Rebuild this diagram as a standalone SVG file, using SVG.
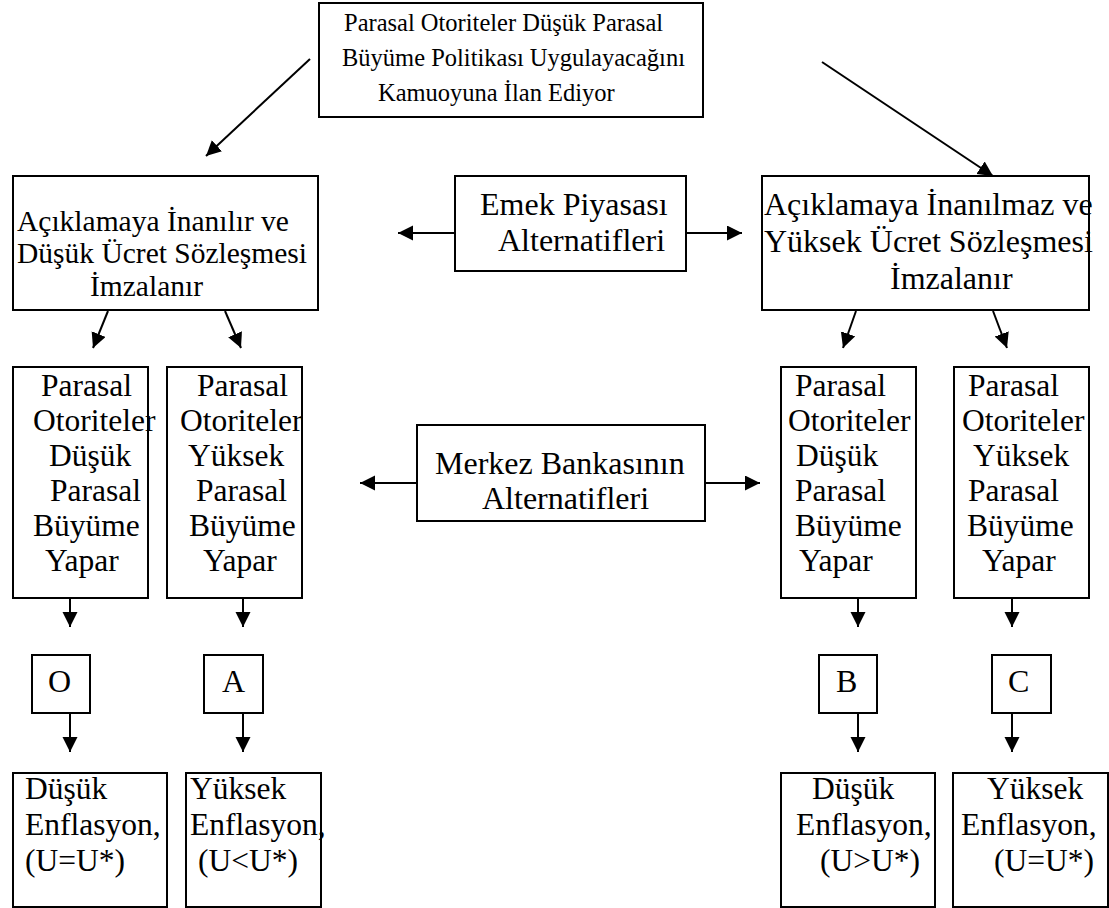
<svg xmlns="http://www.w3.org/2000/svg" width="1109" height="908" viewBox="0 0 1109 908">
<style>
.box{fill:#fff;stroke:#000;stroke-width:2}
text{font-family:"Liberation Serif","Times New Roman","DejaVu Serif",serif;fill:#000}
.lbl{font-size:32px}
.vb{font-size:31.5px}
.lb{font-size:29.5px}
.sm{font-size:24.5px}
.c{stroke:#000;stroke-width:2;fill:none;marker-end:url(#ah)}
</style>
<defs>
<marker id="ah" markerUnits="userSpaceOnUse" markerWidth="16" markerHeight="16" refX="15" refY="7.5" orient="auto">
<path d="M0,0 L15,7.5 L0,15 z" fill="#000"/>
</marker>
</defs>
<rect width="1109" height="908" fill="#fff"/>
<g id="connectors">
<line class="c" x1="310" y1="59" x2="206" y2="156"/>
<line class="c" x1="822" y1="62" x2="993" y2="176"/>
<line class="c" x1="455" y1="233" x2="398" y2="233"/>
<line class="c" x1="686" y1="233" x2="742" y2="233"/>
<line class="c" x1="108" y1="311" x2="93" y2="348"/>
<line class="c" x1="225" y1="311" x2="241" y2="348"/>
<line class="c" x1="856" y1="311" x2="843" y2="348"/>
<line class="c" x1="993" y1="311" x2="1007" y2="348"/>
<line class="c" x1="417" y1="483" x2="360" y2="483"/>
<line class="c" x1="705" y1="483" x2="760" y2="483"/>
<line class="c" x1="70" y1="598" x2="70" y2="627"/>
<line class="c" x1="243" y1="598" x2="243" y2="627"/>
<line class="c" x1="858" y1="598" x2="858" y2="627"/>
<line class="c" x1="1012" y1="598" x2="1012" y2="627"/>
<line class="c" x1="70" y1="713" x2="70" y2="752"/>
<line class="c" x1="243" y1="713" x2="243" y2="752"/>
<line class="c" x1="858" y1="713" x2="858" y2="752"/>
<line class="c" x1="1012" y1="713" x2="1012" y2="752"/>
</g>
<g id="top">
<rect class="box" x="319" y="3" width="384" height="114"/>
<text class="sm" x="344" y="31">Parasal Otoriteler Düşük Parasal</text>
<text class="sm" x="342" y="66">Büyüme Politikası Uygulayacağını</text>
<text class="sm" x="378" y="101">Kamuoyuna İlan Ediyor</text>
</g>
<g id="left-box">
<rect class="box" x="13" y="176" width="305" height="134"/>
<text class="lb" x="17" y="231">Açıklamaya İnanılır ve</text>
<text class="lb" x="17" y="263">Düşük Ücret Sözleşmesi</text>
<text class="lb" x="90" y="296">İmzalanır</text>
</g>
<g id="emek">
<rect class="box" x="455" y="176" width="231" height="95"/>
<text class="lbl" x="480" y="215">Emek Piyasası</text>
<text class="lbl" x="498" y="251">Alternatifleri</text>
</g>
<g id="right-box">
<rect class="box" x="762" y="176" width="327" height="134"/>
<text class="lbl" x="764" y="215">Açıklamaya İnanılmaz ve</text>
<text class="lbl" x="764" y="252">Yüksek Ücret Sözleşmesi</text>
<text class="lbl" x="890" y="289">İmzalanır</text>
</g>
<g id="v1">
<rect class="box" x="13" y="367" width="135" height="231"/>
<text class="vb" x="41" y="396">Parasal</text>
<text class="vb" x="33" y="431">Otoriteler</text>
<text class="vb" x="49" y="466">Düşük</text>
<text class="vb" x="50" y="501">Parasal</text>
<text class="vb" x="33" y="536">Büyüme</text>
<text class="vb" x="45" y="571">Yapar</text>
</g>
<g id="v2">
<rect class="box" x="167" y="367" width="135" height="231"/>
<text class="vb" x="197" y="396">Parasal</text>
<text class="vb" x="180" y="431">Otoriteler</text>
<text class="vb" x="188" y="466">Yüksek</text>
<text class="vb" x="196" y="501">Parasal</text>
<text class="vb" x="189" y="536">Büyüme</text>
<text class="vb" x="203" y="571">Yapar</text>
</g>
<g id="merkez">
<rect class="box" x="417" y="425" width="288" height="96"/>
<text class="lbl" x="435" y="474">Merkez Bankasının</text>
<text class="lbl" x="482" y="509">Alternatifleri</text>
</g>
<g id="v3">
<rect class="box" x="781" y="367" width="135" height="231"/>
<text class="vb" x="795" y="396">Parasal</text>
<text class="vb" x="788" y="431">Otoriteler</text>
<text class="vb" x="796" y="466">Düşük</text>
<text class="vb" x="795" y="501">Parasal</text>
<text class="vb" x="795" y="536">Büyüme</text>
<text class="vb" x="799" y="571">Yapar</text>
</g>
<g id="v4">
<rect class="box" x="954" y="367" width="135" height="231"/>
<text class="vb" x="968" y="396">Parasal</text>
<text class="vb" x="962" y="431">Otoriteler</text>
<text class="vb" x="973" y="466">Yüksek</text>
<text class="vb" x="968" y="501">Parasal</text>
<text class="vb" x="967" y="536">Büyüme</text>
<text class="vb" x="982" y="571">Yapar</text>
</g>
<g id="nO"><rect class="box" x="32" y="655" width="58" height="58"/><text class="lbl" x="48" y="692">O</text></g>
<g id="nA"><rect class="box" x="204" y="655" width="59" height="58"/><text class="lbl" x="222" y="692">A</text></g>
<g id="nB"><rect class="box" x="819" y="655" width="58" height="58"/><text class="lbl" x="836" y="692">B</text></g>
<g id="nC"><rect class="box" x="992" y="655" width="59" height="58"/><text class="lbl" x="1008" y="692">C</text></g>
<g id="b1">
<rect class="box" x="13" y="773" width="154" height="134"/>
<text class="vb" x="25" y="799">Düşük</text>
<text class="vb" x="25" y="835">Enflasyon,</text>
<text class="vb" x="25" y="871">(U=U*)</text>
</g>
<g id="b2">
<rect class="box" x="186" y="773" width="135" height="134"/>
<text class="vb" x="190" y="799">Yüksek</text>
<text class="vb" x="190" y="835">Enflasyon,</text>
<text class="vb" x="198" y="871">(U&lt;U*)</text>
</g>
<g id="b3">
<rect class="box" x="781" y="773" width="154" height="134"/>
<text class="vb" x="812" y="799">Düşük</text>
<text class="vb" x="796" y="835">Enflasyon,</text>
<text class="vb" x="820" y="871">(U&gt;U*)</text>
</g>
<g id="b4">
<rect class="box" x="953" y="773" width="155" height="134"/>
<text class="vb" x="987" y="799">Yüksek</text>
<text class="vb" x="961" y="835">Enflasyon,</text>
<text class="vb" x="994" y="871">(U=U*)</text>
</g>
</svg>
